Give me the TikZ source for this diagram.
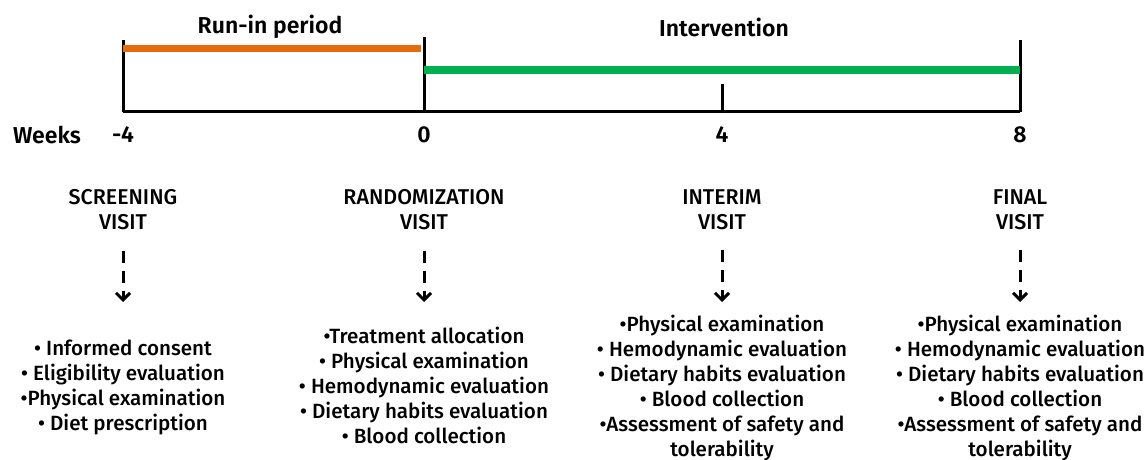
\documentclass[tikz,border=0pt]{standalone}
\usepackage{fontspec}
\setmainfont{Fira Sans}[UprightFont=* Medium, BoldFont=* SemiBold]
\usepackage{tikz}
\usetikzlibrary{arrows.meta,positioning}

\definecolor{runin}{RGB}{228,108,10}
\definecolor{interv}{RGB}{0,176,80}

\begin{document}
\begin{tikzpicture}[x=0.5pt,y=-0.5pt,
    axis/.style={line width=1.5pt},
    visit/.style={align=center,inner sep=0pt,font=\fontsize{10.7}{12.5}\selectfont},
    items/.style={align=center,inner sep=0pt,anchor=north,font=\fontsize{10.3}{12.5}\selectfont},
    tick/.style={inner sep=0pt,font=\bfseries\fontsize{11.5}{13}\selectfont},
    dasharrow/.style={line width=1.5pt,dash pattern=on 6pt off 4pt,-{Straight Barb[length=3.5pt,width=7pt]}}]
        \useasboundingbox (0,0) rectangle (1147,460);

        % timeline
        \coordinate (w0) at (123,112);
        \coordinate (w1) at (424,112);
        \coordinate (w2) at (722,112);
        \coordinate (w3) at (1020,112);
        \draw[axis] (w0) -- (w3);
        \draw[axis] (w0) -- ++(0,-72);
        \draw[axis] (w1) -- ++(0,-75);
        \draw[axis] (w2) -- ++(0,-28);
        \draw[axis] (w3) -- ++(0,-72);

        \draw[runin, line width=3.5pt] (123,49) -- (421,49);
        \draw[interv, line width=4pt] (424,70) -- (1020,70);

        \node[tick] (runlbl) at (270,27) {Run-in period};
        \node[tick] (intlbl) at (724,27) {Intervention};

        \node[tick] (weeks) at (47,135) {Weeks};
        \node[tick] (t0) at (123,135) {-4};
        \node[tick] (t1) at (424,135) {0};
        \node[tick] (t2) at (722,135) {4};
        \node[tick] (t3) at (1020,135) {8};

        % visits
        \node[visit] (screen) at (123,210) {SCREENING\\VISIT};
        \node[visit] (random) at (424,210) {RANDOMIZATION\\VISIT};
        \node[visit] (interim) at (722,210) {INTERIM\\VISIT};
        \node[visit] (final) at (1020,210) {FINAL\\VISIT};

        \coordinate (s-end) at (123,302);
        \coordinate (r-end) at (424,302);
        \coordinate (i-end) at (722,302);
        \coordinate (f-end) at (1020,302);
        \draw[dasharrow, shorten <=10pt] (screen) -- (s-end);
        \draw[dasharrow, shorten <=10pt] (random) -- (r-end);
        \draw[dasharrow, shorten <=10pt] (interim) -- (i-end);
        \draw[dasharrow, shorten <=10pt] (final) -- (f-end);

        % what is done at each visit
        \node[items] (s-list) at (123,340) {• Informed consent\\• Eligibility evaluation\\•Physical examination\\• Diet prescription};
        \node[items] (r-list) at (424,327) {•Treatment allocation\\• Physical examination\\• Hemodynamic evaluation\\• Dietary habits evaluation\\• Blood collection};
        \node[items] (i-list) at (722,315) {•Physical examination\\• Hemodynamic evaluation\\• Dietary habits evaluation\\• Blood collection\\•Assessment of safety and\\tolerability};
        \node[items] (f-list) at (1020,315) {•Physical examination\\• Hemodynamic evaluation\\• Dietary habits evaluation\\• Blood collection\\•Assessment of safety and\\tolerability};

\end{tikzpicture}
\end{document}
